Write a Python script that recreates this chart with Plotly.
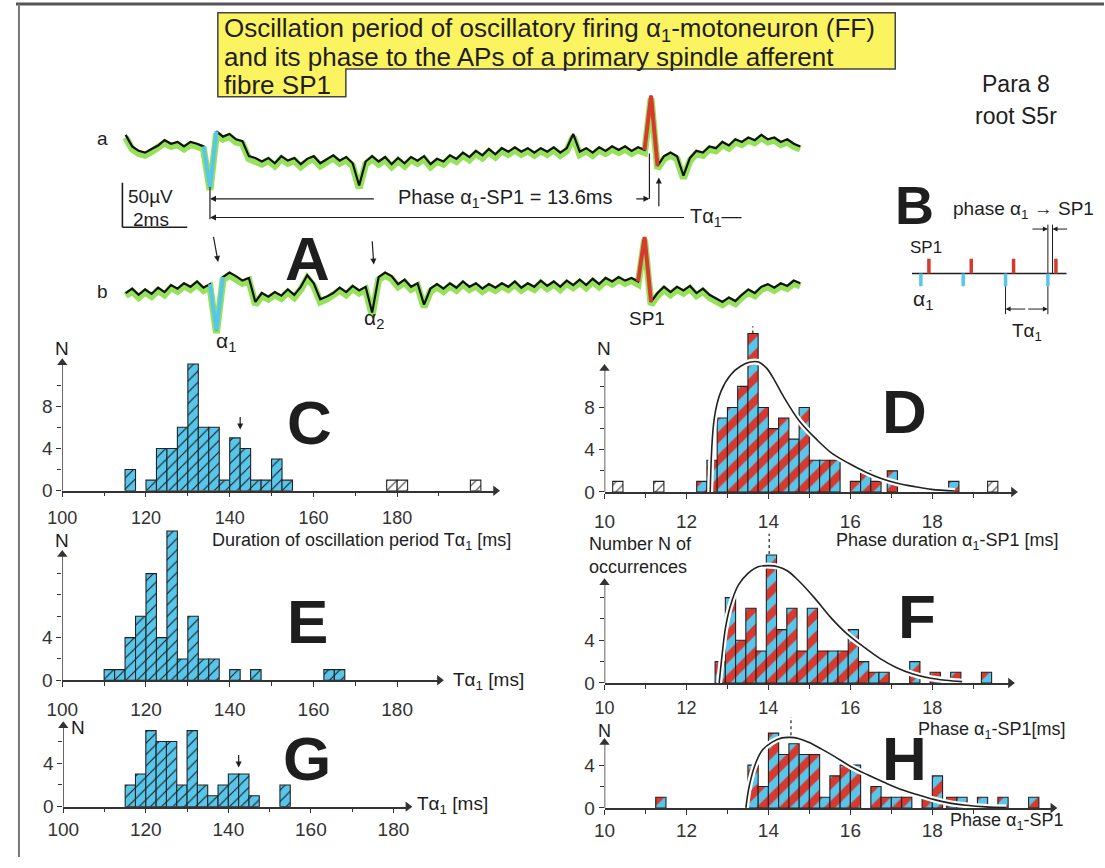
import plotly.graph_objects as go

W, H = 1105, 868

# ---------------- DATA ----------------
# Panel A: recordings a and b, sampled every 0.2 ms; t = 0 at the alpha1 spike of trace a
trace_t0 = -2.6
trace_dt = 0.2
trace_a_uv = [26, 13, 8, 6, 10, 14, 20, 16, 18, 13, 18, 16, 13, -33, 30, 24, 27, 21, 19,
              2, 0, -4, 0, -6, 2, -3, 0, -7, -1, 2, -6, -1, 3, -3, 1, -6, -31,
              -4, 2, -4, 1, -7, 0, -6, 1, -3, 2, -7, -1, -4, 3, -1, 6, 1, 8, 3, 10, 4, 11, 7, 12, 7, 11, 6, 11, 7, 12, 6, 11,
              27, 7, 11, 6, 12, 8, 13, 9, 13, 8, 12, 9, 70,
              -9, 2, 6, 2, -20, 0, 8, 6, 13, 11, 18, 14, 21, 18, 23, 20, 26, 21, 23, 18, 21, 16, 13]
trace_b_uv = [-7, -2, -9, -3, -8, -1, -6, 2, -2, 4, 0, 6, -1, 3, -49,
              11, 16, 12, 7, 10, -17, -7, -11, -6, -10, -3, -9, 0, 13, 4, -14, -11, -7, -1, -6, 1, -4, 0, -29,
              11, 16, 12, 3, 8, 0, 4, -20, -2, 3, -2, 4, -1, 6, 0, 4, -2, 3, -1, 4, 0, 6, -1, 4, 0, 7, 1, 6, 0, 7,
              2, 8, 2, 9, 3, 10, 6, 11, 7, 10, 6,
              56, -17, -7, 0, -6, 0, -4, 1, -7, -2, -9, -13, -17, -12, -16, -9, -3, -7, 0, 3, -1, 4, 1, 7, 4]
trace_b_offset = -145
blue_a = (12, 15)
red_a = (80, 83)
blue_b = (13, 16)
red_b = (79, 82)
phase_ms = 13.6

# Panel B schematic (in oscillation periods)
b_alpha_times = [0, 1, 2, 3]
b_sp1_times = [0.19, 1.19, 2.19, 3.19]

# Panel C: oscillation period T_alpha1 (ms), bin width 2.5
c_width = 2.5
c_left = [115, 120, 122.5, 125, 127.5, 130, 132.5, 135, 137.5, 140, 142.5, 145, 147.5, 150, 152.5]
c_count = [2, 1, 4, 4, 6, 12, 6, 6, 1, 5, 4, 1, 1, 3, 1]
c_white_left = [177.5, 180, 197.5]
c_white_count = [1, 1, 1]

# Panel E
e_width = 2.5
e_left = [110, 112.5, 115, 117.5, 120, 122.5, 125, 127.5, 130, 132.5, 135, 140, 145, 162.5, 165]
e_count = [1, 1, 4, 6, 10, 4, 14, 2, 6, 2, 2, 1, 1, 1, 1]

# Panel G
g_width = 2.5
g_left = [115, 117.5, 120, 122.5, 125, 127.5, 130, 132.5, 135, 137.5, 140, 142.5, 145, 152.5]
g_count = [2, 3, 7, 6, 6, 2, 7, 2, 1, 2, 3, 3, 1, 2]

# Panel D: phase alpha1-SP1 (ms), bin width 0.25
d_width = 0.25
d_left = [12.25, 12.5, 12.75, 13.0, 13.25, 13.5, 13.75, 14.0, 14.25, 14.5, 14.75, 15.0, 15.25, 15.5,
          16.0, 16.25, 16.5, 16.9, 18.4]
d_count = [1, 3, 7, 8, 10, 15, 8, 6, 7, 5, 8, 3, 3, 3, 1, 2, 1, 2, 1]
d_white_left = [10.2, 11.2, 19.35]
d_white_count = [1, 1, 1]
d_fit_x = [12.58, 12.68, 12.84, 13.08, 13.32, 13.56, 13.76, 13.96, 14.16, 14.36, 14.76, 15.17, 15.57,
           15.97, 16.37, 16.77, 17.17, 17.58, 17.98, 18.55]
d_fit_y = [0, 7, 9.5, 11.1, 11.9, 12.3, 12.3, 11.7, 10.5, 9.1, 6.7, 5.0, 3.6, 2.7, 1.9, 1.25, 0.8, 0.5, 0.25, 0.1]
d_peak = 13.62

# Panel F
f_width = 0.25
f_left = [12.7, 12.95, 13.2, 13.45, 13.7, 13.95, 14.2, 14.45, 14.7, 14.95, 15.2, 15.45, 15.7, 15.95,
          16.2, 16.45, 16.7, 17.45, 17.95, 18.45, 19.2]
f_count = [2, 8, 4, 7, 3, 12, 5, 7, 3, 7, 3, 3, 3, 5, 2, 1, 1, 2, 1, 1, 1]
f_fit_x = [12.8, 12.87, 12.95, 13.07, 13.27, 13.51, 13.75, 14.03, 14.23, 14.47, 14.71, 15.12, 15.52,
           15.92, 16.32, 16.72, 17.12, 17.53, 17.93, 18.33, 18.73]
f_fit_y = [0, 2.6, 5.1, 7.2, 9.2, 10.3, 10.9, 11.0, 10.9, 10.5, 9.7, 8.0, 6.15, 4.6, 3.4, 2.3, 1.45,
           0.83, 0.46, 0.25, 0.12]
f_peak = 14.02

# Panel H
h_width = 0.25
h_left = [11.25, 13.5, 13.75, 14.0, 14.25, 14.5, 14.75, 15.0, 15.25, 15.5, 15.75, 16.0, 16.5, 16.75,
          17.0, 17.25, 17.75, 18.0, 18.35, 18.6, 19.1, 19.6, 20.35]
h_count = [1, 4, 2, 7, 5, 6, 5, 5, 1, 3, 4, 4, 2, 1, 1, 1, 1, 3, 1, 1, 1, 1, 1]
h_fit_x = [13.45, 13.53, 13.69, 13.85, 14.09, 14.33, 14.53, 14.73, 14.98, 15.3, 15.62, 16.02, 16.42,
           16.82, 17.22, 17.63, 18.03, 18.43, 18.83, 19.3, 19.8]
h_fit_y = [0, 2, 4.2, 5.4, 6.15, 6.55, 6.6, 6.5, 6.15, 5.5, 4.8, 3.85, 3.1, 2.4, 1.75, 1.25, 0.8,
           0.45, 0.25, 0.1, 0.03]
h_peak = 14.55

# ---------------- STYLE ----------------
BLUE = '#57c6ea'
RED = '#d8392f'
GREEN = '#95e25a'
YELLOW = '#fbf35f'
INK = '#1e1e1e'
AX = '#333333'
FONT = 'Liberation Sans, Arial, sans-serif'

fig = go.Figure()
annotations = []
shapes = []


def label(xp, yp, text, size=19, xanchor='center', yanchor='middle', color=INK):
    annotations.append(dict(x=xp / W, y=1 - yp / H, xref='paper', yref='paper', text=text,
                            showarrow=False, font=dict(size=size, color=color, family=FONT),
                            xanchor=xanchor, yanchor=yanchor))


def arrow(x, y, ax, ay, xr, yr, head=2, width=1.2, size=1.0):
    annotations.append(dict(x=x, y=y, ax=ax, ay=ay, xref=xr, yref=yr, axref=xr, ayref=yr, text='',
                            showarrow=True, arrowhead=head, arrowsize=size, arrowwidth=width,
                            arrowcolor=INK))


def seg(x0, y0, x1, y1, xr, yr, color=INK, width=1.2, dash='solid'):
    shapes.append(dict(type='line', x0=x0, y0=y0, x1=x1, y1=y1, xref=xr, yref=yr,
                       line=dict(color=color, width=width, dash=dash), layer='above'))


layout_axes = {}

# ---------- Panel A ----------
t = [trace_t0 + i * trace_dt for i in range(len(trace_a_uv))]
b_plot = [v + trace_b_offset for v in trace_b_uv]
for ys, bl, rd in [(trace_a_uv, blue_a, red_a), (b_plot, blue_b, red_b)]:
    fig.add_trace(go.Scatter(x=t, y=[v - 3 for v in ys], mode='lines', xaxis='x', yaxis='y',
                             line=dict(color=GREEN, width=7), hoverinfo='skip'))
    fig.add_trace(go.Scatter(x=t, y=ys, mode='lines', xaxis='x', yaxis='y',
                             line=dict(color='#111111', width=2.2), hoverinfo='skip'))
    fig.add_trace(go.Scatter(x=t[bl[0]:bl[1]], y=ys[bl[0]:bl[1]], mode='lines', xaxis='x', yaxis='y',
                             line=dict(color=BLUE, width=4), hoverinfo='skip'))
    fig.add_trace(go.Scatter(x=t[rd[0]:rd[1]], y=ys[rd[0]:rd[1]], mode='lines', xaxis='x', yaxis='y',
                             line=dict(color=RED, width=4), hoverinfo='skip'))

layout_axes['xaxis'] = dict(domain=[100 / W, 810 / W], range=[-2.945, 18.61], visible=False)
layout_axes['yaxis'] = dict(domain=[1 - 350 / H, 1 - 85 / H], range=[-211.1, 83.3], visible=False)

# measurement lines in A
seg(0, -33, 0, -69, 'x', 'y')
seg(phase_ms - 0.05, 5, phase_ms - 0.05, -46, 'x', 'y')
arrow(0, -46, 5.1, -46, 'x', 'y')
arrow(phase_ms - 0.05, -46, 13.1, -46, 'x', 'y')
arrow(0, -67, 14.66, -67, 'x', 'y')
arrow(13.84, -22, 13.84, -56, 'x', 'y')
arrow(0.25, -117, 0.1, -87, 'x', 'y')
arrow(5.05, -120, 5.0, -92, 'x', 'y')
seg(-2.7, -28, -2.7, -78, 'x', 'y', width=1.6)
seg(-2.7, -78, -0.7, -78, 'x', 'y', width=1.6)
annotations.append(dict(x=9.11, y=-46, xref='x', yref='y', showarrow=False,
                        text=f'Phase α<sub>1</sub>-SP1 = {phase_ms}ms',
                        font=dict(size=20, color=INK, family=FONT)))
annotations.append(dict(x=14.75, y=-67, xref='x', yref='y', showarrow=False, xanchor='left',
                        text='Tα<sub>1</sub>—', font=dict(size=20, color=INK, family=FONT)))
label(137, 199, '50µV', 19)
label(137, 222, '2ms', 19)
label(88, 140, 'a', 19)
label(88, 295, 'b', 19)
label(296, 262, '<b>A</b>', 62)
label(213, 346, 'α<sub>1</sub>', 21)
label(364, 323, 'α<sub>2</sub>', 21)
label(641, 323, 'SP1', 19)

# ---------- Panel B ----------
layout_axes['xaxis8'] = dict(domain=[906.1 / W, 1069.5 / W], range=[-0.3, 3.5], visible=False)
layout_axes['yaxis8'] = dict(domain=[1 - 325 / H, 1 - 220 / H], range=[-3.2, 3.8], visible=False)
fig.add_trace(go.Scatter(x=[-0.21, 3.44], y=[0, 0], mode='lines', xaxis='x8', yaxis='y8',
                         line=dict(color=INK, width=1.4), hoverinfo='skip'))
for tt in b_sp1_times:
    seg(tt, 0, tt, 1.0, 'x8', 'y8', color=RED, width=3.5)
for tt in b_alpha_times:
    seg(tt, 0, tt, -0.87, 'x8', 'y8', color=BLUE, width=3.5)
seg(b_alpha_times[3], 0, b_alpha_times[3], 3.3, 'x8', 'y8', width=1)
seg(b_sp1_times[3] - 0.08, 0, b_sp1_times[3] - 0.08, 3.3, 'x8', 'y8', width=1)
arrow(b_alpha_times[3], 3.0, b_alpha_times[3] - 0.4, 3.0, 'x8', 'y8', width=1)
arrow(b_sp1_times[3] - 0.08, 3.0, b_sp1_times[3] + 0.3, 3.0, 'x8', 'y8', width=1)
seg(b_alpha_times[2], -0.87, b_alpha_times[2], -2.75, 'x8', 'y8', width=1)
seg(b_alpha_times[3], -0.87, b_alpha_times[3], -2.75, 'x8', 'y8', width=1)
arrow(b_alpha_times[2], -2.4, 2.5, -2.4, 'x8', 'y8', width=1)
arrow(b_alpha_times[3], -2.4, 2.5, -2.4, 'x8', 'y8', width=1)
label(913, 208, '<b>B</b>', 54)
label(950, 213, 'phase α<sub>1</sub> → SP1', 19, xanchor='left')
label(924, 251, 'SP1', 17)
label(921, 304, 'α<sub>1</sub>', 21)
label(1027, 336, 'Tα<sub>1</sub>', 19)
label(1016, 85, 'Para 8', 23)
label(1016, 117, 'root S5r', 23)

# ---------- histograms ----------
panels = [
    dict(n=2, x0px=47, x1px=487, xr=[100, 203.5], ybot=497, ypx=10.7, ytop=12.4, arr=12.1,
         xt=[100, 120, 140, 160, 180], xm=[110, 130, 150, 170, 190], yt=[0, 4, 8], ym=[2, 6, 10], so=5, fs=18),
    dict(n=3, x0px=597.7, x1px=1013, xr=[10, 19.98], ybot=498.3, ypx=10.7, ytop=15.8, arr=11.7,
         xt=[10, 12, 14, 16, 18], xm=[11, 13, 15, 17, 19], yt=[0, 4, 8], ym=[2, 6, 10], so=6, fs=19),
    dict(n=4, x0px=47, x1px=430, xr=[100, 190.1], ybot=689, ypx=10.8, ytop=14.2, arr=11.8,
         xt=[100, 120, 140, 160, 180], xm=[110, 130, 150, 170], yt=[0, 4], ym=[2, 6, 8, 10], so=6, fs=19),
    dict(n=5, x0px=597.7, x1px=1010, xr=[10, 19.91], ybot=691.7, ypx=10.8, ytop=14.2, arr=9.4,
         xt=[10, 12, 14, 16, 18], xm=[11, 13, 15, 17, 19], yt=[0, 4], ym=[2, 6, 8], so=3, fs=18),
    dict(n=6, x0px=48, x1px=398, xr=[100, 183.5], ybot=817, ypx=11.0, ytop=7.6, arr=7.45,
         xt=[100, 120, 140, 160, 180], xm=[110, 130, 150, 170], yt=[0, 4], ym=[2, 6], so=0, fs=19),
    dict(n=7, x0px=597.7, x1px=1053, xr=[10, 20.94], ybot=818.3, ypx=10.83, ytop=8.6, arr=6.12,
         xt=[10, 12, 14, 16, 18], xm=[11, 13, 15, 17, 19], yt=[0, 4], ym=[2], so=0, fs=19),
]
for p in panels:
    n = p['n']
    ytop_px = p['ybot'] - p['ytop'] * p['ypx']
    layout_axes[f'xaxis{n}'] = dict(
        domain=[p['x0px'] / W, p['x1px'] / W], range=p['xr'], anchor=f'y{n}',
        showline=True, linecolor=AX, linewidth=1.5, ticks='outside', ticklen=5, tickcolor=AX,
        tickwidth=1.2, tickvals=p['xt'], tickfont=dict(size=p['fs'], color=AX, family=FONT),
        ticklabelstandoff=p['so'], showgrid=False, zeroline=False,
        minor=dict(tickvals=p['xm'], ticks='outside', ticklen=4, tickcolor=AX, tickwidth=1.2))
    layout_axes[f'yaxis{n}'] = dict(
        domain=[1 - p['ybot'] / H, 1 - ytop_px / H], range=[0, p['ytop']], anchor=f'x{n}',
        showline=False, ticks='outside', ticklen=5, tickcolor=AX, tickwidth=1.2,
        tickvals=p['yt'], tickfont=dict(size=19, color=AX, family=FONT), showgrid=False,
        zeroline=False, minor=dict(tickvals=p['ym'], ticks='outside', ticklen=4, tickcolor=AX, tickwidth=1.2))
    seg(p['xr'][0], 0, p['xr'][0], p['arr'], f'x{n}', f'y{n}', color=AX, width=1.5)
    fig.add_trace(go.Scatter(x=[p['xr'][1], p['xr'][0]], y=[0, p['arr']], mode='markers',
                             xaxis=f'x{n}', yaxis=f'y{n}', cliponaxis=False, hoverinfo='skip',
                             marker=dict(symbol=['triangle-right', 'triangle-up'], size=9, color=AX)))


def bars(left, count, width, n, kind):
    if kind == 'hatch':
        pat = dict(shape='/', fgcolor='#1a1a1a', bgcolor=BLUE, size=8, solidity=0.14, fgopacity=1)
    elif kind == 'stripe':
        pat = dict(shape='/', fgcolor=RED, bgcolor=BLUE, size=16, solidity=0.5, fgopacity=1)
    else:
        pat = dict(shape='/', fgcolor='#333333', bgcolor='white', size=7, solidity=0.15, fgopacity=1)
    fig.add_trace(go.Bar(x=[l + width / 2 for l in left], y=count, width=width, xaxis=f'x{n}',
                         yaxis=f'y{n}', hoverinfo='skip',
                         marker=dict(color=pat['bgcolor'], pattern=pat,
                                     line=dict(color='#222222', width=1.1))))


def fit(xs, ys, n):
    fig.add_trace(go.Scatter(x=xs, y=ys, mode='lines', xaxis=f'x{n}', yaxis=f'y{n}', hoverinfo='skip',
                             line=dict(color='white', width=6, shape='spline')))
    fig.add_trace(go.Scatter(x=xs, y=ys, mode='lines', xaxis=f'x{n}', yaxis=f'y{n}', hoverinfo='skip',
                             line=dict(color='#222222', width=1.6, shape='spline')))


bars(c_left, c_count, c_width, 2, 'hatch')
bars(c_white_left, c_white_count, c_width, 2, 'white')
bars(e_left, e_count, e_width, 4, 'hatch')
bars(g_left, g_count, g_width, 6, 'hatch')
bars(d_left, d_count, d_width, 3, 'stripe')
bars(d_white_left, d_white_count, d_width, 3, 'white')
fit(d_fit_x, d_fit_y, 3)
bars(f_left, f_count, f_width, 5, 'stripe')
fit(f_fit_x, f_fit_y, 5)
bars(h_left, h_count, h_width, 7, 'stripe')
fit(h_fit_x, h_fit_y, 7)

seg(d_peak, 15.0, d_peak, 15.7, 'x3', 'y3', width=1.2, dash='dot')
seg(f_peak, 12.1, f_peak, 14.0, 'x5', 'y5', width=1.2, dash='dot')
seg(h_peak, 6.8, h_peak, 8.5, 'x7', 'y7', width=1.2, dash='dot')

for n, xv, yv in [(2, 142.5, 5.8), (6, 142.5, 3.6)]:
    annotations.append(dict(x=xv, y=yv, xref=f'x{n}', yref=f'y{n}', ax=0, ay=-14, text='',
                            showarrow=True, arrowhead=2, arrowsize=1, arrowwidth=1.2, arrowcolor=INK))

# panel letters and axis texts
label(298, 428, '<b>C</b>', 62)
label(902, 417, '<b>D</b>', 62)
label(296, 629, '<b>E</b>', 62)
label(915, 624, '<b>F</b>', 62)
label(296, 768, '<b>G</b>', 62)
label(902, 768, '<b>H</b>', 62)
label(47, 353, 'N', 19)
label(597, 353, 'N', 19)
label(47, 547, 'N', 19)
label(63, 737, 'N', 19)
label(598, 740, 'N', 18)
label(351, 548, 'Duration of oscillation period Tα<sub>1</sub> [ms]', 18)
label(946, 548, 'Phase duration α<sub>1</sub>-SP1 [ms]', 18)
label(580, 551, 'Number N of', 18, xanchor='left')
label(580, 574, 'occurrences', 18, xanchor='left')
label(442, 690, 'Tα<sub>1</sub> [ms]', 19, xanchor='left')
label(991, 740, 'Phase α<sub>1</sub>-SP1[ms]', 18)
label(405, 815, 'Tα<sub>1</sub> [ms]', 19, xanchor='left')
label(947, 832, 'Phase α<sub>1</sub>-SP1', 18, xanchor='left')

# title box
bx = lambda v: v / W
by = lambda v: 1 - v / H
shapes.insert(0, dict(type='path', xref='paper', yref='paper', layer='below',
                      path=(f'M {bx(205)} {by(13)} L {bx(893)} {by(13)} L {bx(893)} {by(70)} '
                            f'L {bx(335)} {by(70)} L {bx(335)} {by(98)} L {bx(205)} {by(98)} Z'),
                      fillcolor=YELLOW, line=dict(color='#444444', width=1.5)))
label(209, 30, 'Oscillation period of oscillatory firing α<sub>1</sub>-motoneuron (FF)', 26, xanchor='left')
label(209, 58, 'and its phase to the APs of a primary spindle afferent', 26, xanchor='left')
label(209, 86, 'fibre SP1', 26, xanchor='left')

# frame lines
shapes.append(dict(type='line', xref='paper', yref='paper', x0=0, y0=by(4), x1=1, y1=by(4),
                   line=dict(color='#555555', width=3)))
shapes.append(dict(type='line', xref='paper', yref='paper', x0=bx(3), y0=by(4), x1=bx(3), y1=0,
                   line=dict(color='#777777', width=2)))

fig.update_layout(
    width=W, height=H, margin=dict(l=0, r=0, t=0, b=0), autosize=False,
    paper_bgcolor='white', plot_bgcolor='rgba(0,0,0,0)', showlegend=False,
    font=dict(family=FONT, color=INK), barmode='overlay',
    annotations=annotations, shapes=shapes, **layout_axes)

fig.write_html('out.html', config={'displayModeBar': False},
               post_script="document.body.style.margin='0';document.body.style.overflow='hidden';")
